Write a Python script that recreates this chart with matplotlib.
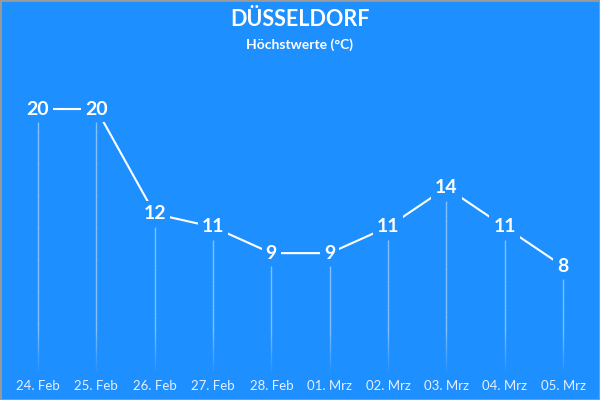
import matplotlib.pyplot as plt
from matplotlib.collections import LineCollection
import numpy as np

plt.rcParams['font.family'] = ['Lato', 'DejaVu Sans']

days = ["24. Feb", "25. Feb", "26. Feb", "27. Feb", "28. Feb",
        "01. Mrz", "02. Mrz", "03. Mrz", "04. Mrz", "05. Mrz"]
temps = [20, 20, 12, 11, 9, 9, 11, 14, 11, 8]

bg = "#1E8FFF"

fig = plt.figure(figsize=(6, 4), dpi=100, facecolor=bg)
fig.patches.append(plt.Rectangle((0, 0), 1, 1, transform=fig.transFigure,
                                 fill=False, edgecolor="#9a9a9a", lw=2))
ax = fig.add_axes([0, 0, 1, 1])
ax.set_facecolor(bg)
ax.set_xlim(-0.651, 9.634)
ax.set_ylim(-2.21, 28.32)
ax.axis("off")

x = np.arange(len(temps))

# connecting line
ax.plot(x, temps, color="white", lw=1.5, zorder=2)

# drop lines fading towards the bottom
segs, cols = [], []
for xi, t in zip(x, temps):
    ys = np.linspace(0, t - 1.0, 40)
    for a, b in zip(ys[:-1], ys[1:]):
        segs.append([(xi, a), (xi, b)])
        al = 0.45 if a > 3 else 0.05 + 0.4 * a / 3
        cols.append((1, 1, 1, al))
ax.add_collection(LineCollection(segs, colors=cols, lw=1, zorder=1))

for xi, t in zip(x, temps):
    ax.text(xi, t, str(t), color="white", fontsize=14, fontweight="bold",
            ha="center", va="center", zorder=3,
            bbox=dict(facecolor=bg, edgecolor="none", pad=3))
    ax.text(xi, -1.15, days[xi], color="#e6f0ff", fontsize=9.5,
            ha="center", va="center")

fig.text(0.5, 0.95, "DÜSSELDORF", color="white", fontsize=15.5,
         fontweight="bold", ha="center", va="center")
fig.text(0.5, 0.888, "Höchstwerte (°C)", color="white", fontsize=10,
         fontweight="bold", ha="center", va="center")

fig.savefig("out.png", dpi=100, facecolor=bg)
